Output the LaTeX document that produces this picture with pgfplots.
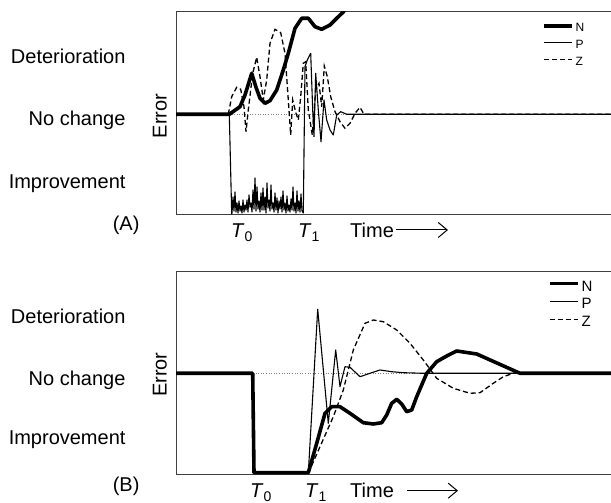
\documentclass[border=0pt]{standalone}
\usepackage{fontspec}
\setmainfont{Liberation Sans}
\usepackage{pgfplots}
\pgfplotsset{compat=1.18}
\usetikzlibrary{arrows.meta}

\newcommand{\lbl}{\fontsize{20}{22}\selectfont}

\pgfplotsset{
  panel/.style={
    anchor=south west, width=435pt, height=203pt, scale only axis,
    xmin=0, xmax=435, ymin=0, ymax=203,
    axis x line*=box, axis y line*=left,
    xtick=\empty, ytick=\empty,
    axis line style={line width=1pt, black!75},
    legend cell align=left,
    legend style={draw=none, fill=none, inner sep=0pt, nodes={inner sep=2pt}},
  },
  Nline/.style={black, line width=3.6pt, line join=round},
  Pline/.style={black, line width=1.1pt, line join=round},
  Zline/.style={black, line width=1.3pt, dash pattern=on 5pt off 3pt},
  base/.style={gray, line width=0.6pt, dotted},
}

\begin{document}
\begin{tikzpicture}
\useasboundingbox (0pt,0pt) rectangle (611pt,503pt);

% ---------- panel A ----------
\begin{axis}[panel, at={(176pt,288pt)},
  legend image code/.code={\draw[#1] (0pt,2.4pt) -- (28pt,2.4pt);},
  legend style={at={(0.841,0.955)}, anchor=north west, row sep=3pt,
    font=\fontsize{12}{13}\selectfont}]
\addplot[base, forget plot] coordinates {(53,100.7) (190,100.7)};
\addplot[Nline] coordinates {
 (0,100.7) (53.3,100.7) (64,108.3) (69,120) (75.7,141.7) (80,127.7) (84,116.7)
 (89,111.7) (94,114.3) (100.7,125) (107.3,145) (112.3,161.7) (119,186.7)
 (125.7,196.7) (132.3,196.7) (139,188.3) (145.7,185.7) (154,190) (160.7,196.7)
 (167.3,203) (172,212)};
\addlegendentry{N}
\addplot[Pline] coordinates {
 (53.3,100.7) (55.7,1)
 (56,2) (57,18) (58,4) (59,23) (60,3) (61,12) (62,2) (63,14) (64,4) (65,9)
 (66,2) (67,15) (68,3) (69,10) (70,5) (71,15) (72,3) (73,20) (74,8) (75,12)
 (76,3) (77,25) (78,6) (79,37) (80,4) (81,28) (82,6) (83,14) (84,3) (85,22)
 (86,5) (87,27) (88,5) (89,18) (90,2) (91,32) (92,7) (93,15) (94,4) (95,30)
 (96,6) (97,12) (98,3) (99,22) (100,5) (101,17) (102,2) (103,14) (104,6)
 (105,18) (106,3) (107,24) (108,5) (109,12) (110,2) (111,19) (112,4) (113,10)
 (114,3) (115,16) (116,5) (117,28) (118,4) (119,12) (120,2) (121,24) (122,4)
 (123,14) (124,3) (125,21) (126,4) (127.3,2)
 (129,148.3) (131.3,155) (134.7,161.7) (136.7,105) (138,78.3) (139.7,141.7)
 (142.3,105) (145,73.3) (148,115) (150.7,95) (154,85) (157.3,80) (160.7,100)
 (164.7,103.3) (170.7,100.7) (435,100.7)};
\addlegendentry{P}
\addplot[Zline] coordinates {
 (52.3,100.7) (55.7,118.3) (60.7,127.7) (64.7,125.7) (68,108.3) (70,83.3)
 (72.3,105) (76.7,141.7) (80.7,157.7) (84,138.3) (87.3,115) (90.7,135)
 (94,171.7) (99,185.7) (104.7,182.3) (109,161.7) (112.3,115) (114.7,80)
 (116.7,115) (120,101.7) (122.3,95) (124.7,118.3) (127.3,151.7) (129.7,153.3)
 (132.3,105) (136.3,80) (139.7,125) (143,131.7) (145.7,108.3) (148.3,149)
 (151.3,138.3) (154.7,118.3) (159,103.3) (164,93.3) (169,86.7) (174,91.7)
 (179,101.7) (184,107.7) (188,100.7) (435,100.7)};
\addlegendentry{Z}
\end{axis}

\node[anchor=base east] at (129pt,439.7pt) {\lbl Deterioration};
\node[anchor=base east] at (129pt,377pt) {\lbl No change};
\node[anchor=base east] at (129pt,314pt) {\lbl Improvement};
\node[anchor=base east] at (143pt,272pt) {\lbl (A)};
\node[anchor=base, rotate=90] at (166.5pt,387pt) {\lbl Error};
\node[anchor=base west, inner sep=0pt] at (231pt,265pt) {\lbl\textit{T}\textsubscript{0}};
\node[anchor=base west, inner sep=0pt] at (298pt,265pt) {\lbl\textit{T}\textsubscript{1}};
\node[anchor=base west, inner sep=0pt] at (350pt,265pt) {\lbl Time};
\draw[line width=1pt, -{Straight Barb[length=9pt, width=15pt]}] (396pt,273pt) -- (448pt,273pt);

% ---------- panel B ----------
\begin{axis}[panel, at={(176pt,28pt)},
  legend image code/.code={\draw[#1] (0pt,3pt) -- (28pt,3pt);},
  legend style={at={(0.855,0.968)}, anchor=north west, row sep=2pt,
    font=\fontsize{15}{16}\selectfont}]
\addplot[base, forget plot] coordinates {(77,101.7) (345,101.7)};
\addplot[Nline] coordinates {
 (0,101.7) (76.7,101.7) (78,2.3) (132.3,2.3) (140.7,31.7) (149,61.7)
 (155.7,68.3) (164,68.3) (174,61.7) (187.3,52.3) (197.3,51) (205.7,52.3)
 (210.7,60) (215.7,71.7) (220.7,75.7) (225.7,71) (230.7,63.3) (235.7,65)
 (240.7,78.3) (250.7,101.7) (260.7,113.3) (270.7,119) (280.7,124) (300.7,121)
 (344,101.7) (435,101.7)};
\addlegendentry{N}
\addplot[Pline] coordinates {
 (132.3,1.7) (141.7,165.7) (152.3,51.7) (159.7,125) (164,88.3) (169,108.3)
 (174,107.7) (184,98.3) (194,101.7) (204,105) (215.7,103.3) (227.3,102.3)
 (247.3,101.7) (435,101.7)};
\addlegendentry{P}
\addplot[Zline] coordinates {
 (132.3,1.7) (144,28.3) (157.3,58.3) (167.3,85) (177.3,125) (189,151.7)
 (197.3,155) (207.3,153.3) (220.7,145) (234,131.7) (247.3,115) (260.7,96.7)
 (277.3,86.7) (294,81.7) (304,82.3) (317.3,91.7) (327.3,98.3) (337.3,101.7)
 (435,101.7)};
\addlegendentry{Z}
\end{axis}

\node[anchor=base east] at (129pt,179.7pt) {\lbl Deterioration};
\node[anchor=base east] at (129pt,117pt) {\lbl No change};
\node[anchor=base east] at (129pt,58pt) {\lbl Improvement};
\node[anchor=base east] at (143pt,11.3pt) {\lbl (B)};
\node[anchor=base, rotate=90] at (166.5pt,128.3pt) {\lbl Error};
\node[anchor=base west, inner sep=0pt] at (250pt,5pt) {\lbl\textit{T}\textsubscript{0}};
\node[anchor=base west, inner sep=0pt] at (305pt,5pt) {\lbl\textit{T}\textsubscript{1}};
\node[anchor=base west, inner sep=0pt] at (350pt,5pt) {\lbl Time};
\draw[line width=1pt, -{Straight Barb[length=9pt, width=15pt]}] (407pt,12.3pt) -- (458pt,12.3pt);
\end{tikzpicture}
\end{document}
